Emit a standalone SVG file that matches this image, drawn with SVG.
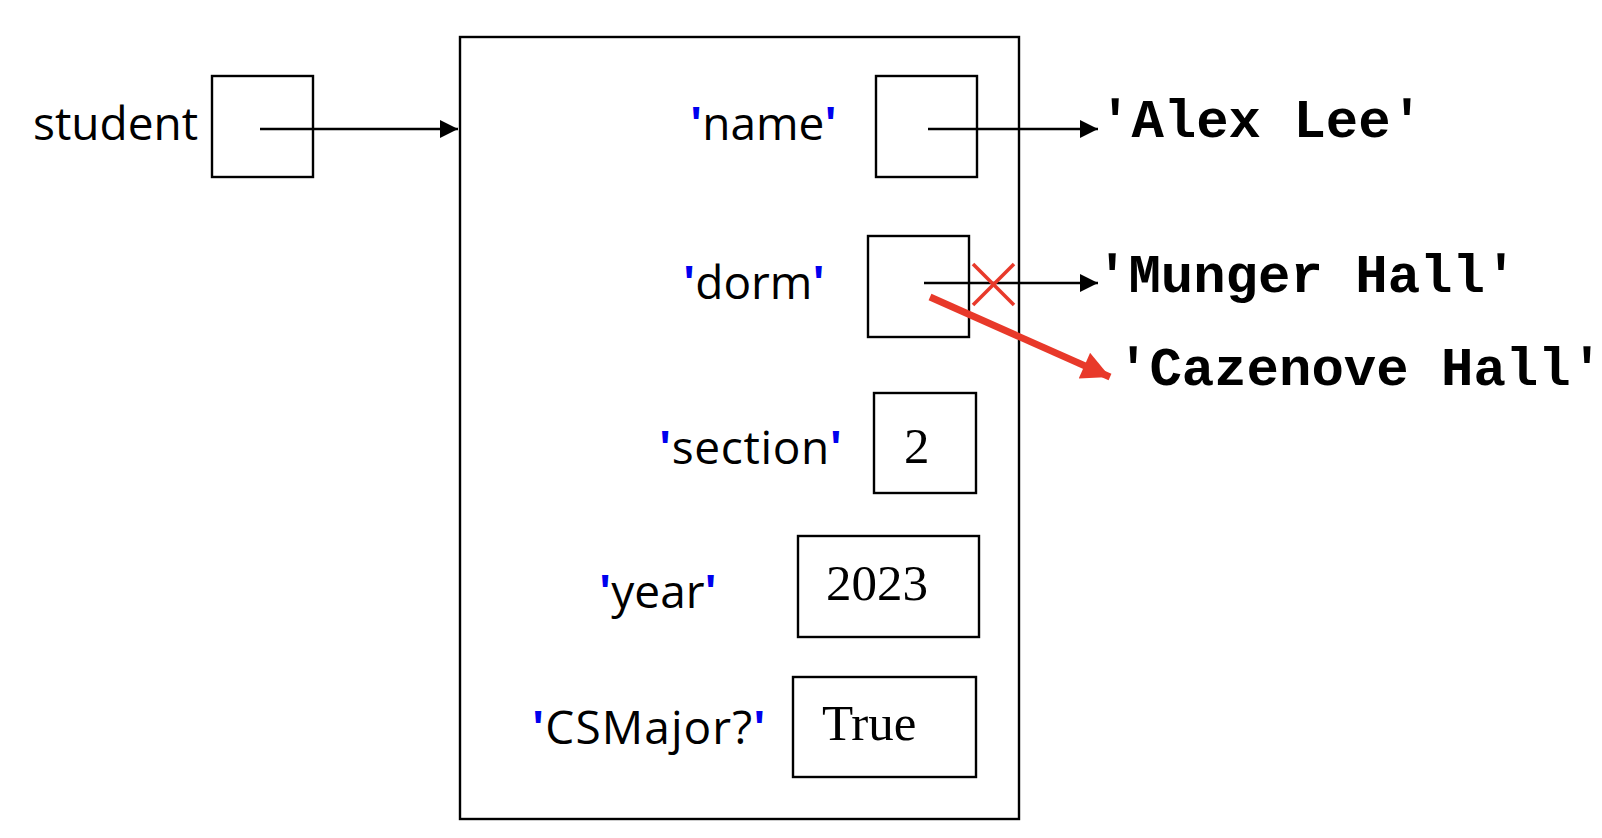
<svg xmlns="http://www.w3.org/2000/svg" width="1602" height="838" viewBox="0 0 1602 838">
<style>
.box{fill:none;stroke:#000;stroke-width:2.4}
.lbl{font-family:"Open Sans","Liberation Sans",sans-serif;font-size:46px;fill:#000}
.q{fill:#0000ee;font-weight:bold}
.mono{font-family:"Liberation Mono","DejaVu Sans Mono",monospace;font-weight:bold;font-size:54px;fill:#000}
.num{font-family:"Liberation Serif","DejaVu Serif",serif;font-size:51px;fill:#000}
.conn{stroke:#000;stroke-width:2.4;fill:none}
.red{stroke:#e8392a;fill:none}
</style>
<defs>
<marker id="ah" viewBox="0 0 10 10" refX="10" refY="5" markerUnits="userSpaceOnUse" markerWidth="18" markerHeight="18" orient="auto">
<path d="M0,0 L10,5 L0,10 Z" fill="#000"/>
</marker>
<marker id="ahr" viewBox="0 0 10 10" refX="10" refY="5" markerUnits="userSpaceOnUse" markerWidth="30" markerHeight="28" orient="auto">
<path d="M0,0 L10,5 L0,10 Z" fill="#e8392a"/>
</marker>
</defs>
<rect width="1602" height="838" fill="#fff"/>

<g id="student">
<text class="lbl" x="33" y="140">student</text>
<rect class="box" x="212" y="76" width="101" height="101"/>
</g>

<g id="dict">
<rect class="box" x="460" y="37" width="559" height="782"/>
</g>

<g id="name">
<text class="lbl" x="690" y="140"><tspan class="q">'</tspan>name<tspan class="q">'</tspan></text>
<rect class="box" x="876" y="76" width="101" height="101"/>
</g>

<g id="dorm">
<text class="lbl" x="683" y="299"><tspan class="q">'</tspan>dorm<tspan class="q">'</tspan></text>
<rect class="box" x="868" y="236" width="101" height="101"/>
</g>

<g id="section">
<text class="lbl" x="659" y="464" letter-spacing="0.6"><tspan class="q">'</tspan>section<tspan class="q">'</tspan></text>
<rect class="box" x="874" y="393" width="102" height="100"/>
<text class="num" x="904" y="463">2</text>
</g>

<g id="year">
<text class="lbl" x="599" y="608"><tspan class="q">'</tspan>year<tspan class="q">'</tspan></text>
<rect class="box" x="798" y="536" width="181" height="101"/>
<text class="num" x="826" y="600">2023</text>
</g>

<g id="csmajor">
<text class="lbl" x="532" y="744" letter-spacing="1.1"><tspan class="q">'</tspan>CSMajor?<tspan class="q">'</tspan></text>
<rect class="box" x="793" y="677" width="183" height="100"/>
<text class="num" x="822" y="740">True</text>
</g>

<g id="alex">
<text class="mono" x="1099" y="137">'Alex Lee'</text>
</g>
<g id="munger">
<text class="mono" x="1096" y="292">'Munger Hall'</text>
</g>
<g id="cazenove">
<text class="mono" x="1117" y="385">'Cazenove Hall'</text>
</g>

<g id="connectors">
<line class="conn" x1="260" y1="129" x2="458" y2="129" marker-end="url(#ah)"/>
<line class="conn" x1="928" y1="129" x2="1098" y2="129" marker-end="url(#ah)"/>
<line class="conn" x1="924" y1="283" x2="1098" y2="283" marker-end="url(#ah)"/>
<line class="red" stroke-width="7" x1="930" y1="297" x2="1110" y2="377" marker-end="url(#ahr)"/>
<g id="cross" class="red" stroke-width="3.5">
<line x1="973" y1="264" x2="1014" y2="305"/>
<line x1="1014" y1="264" x2="973" y2="305"/>
</g>
</g>
</svg>
